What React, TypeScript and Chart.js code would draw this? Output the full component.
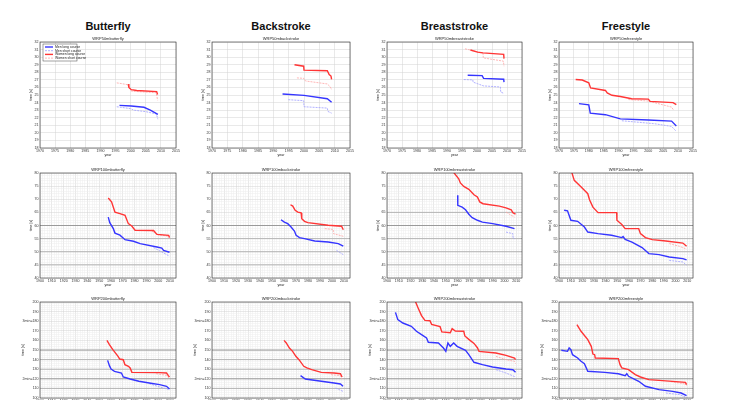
import { useEffect, useRef } from "react";
import { Chart, registerables } from "chart.js";
import type { ChartConfiguration, Plugin } from "chart.js";

Chart.register(...registerables);
Chart.defaults.font.family = "'Liberation Sans', Arial, sans-serif";

type Pts = number[][];

// 50m, [year, time in s]
const fly50ML: Pts = [[1996.3, 23.63], [2000.2, 23.55], [2004.4, 23.38], [2006.5, 23.0], [2009, 22.43]];
const fly50MS: Pts = [[1995.4, 23.45], [2000, 23.2], [2001, 23.0], [2005, 22.8], [2008.5, 22.5], [2009, 21.8]];
const fly50WL: Pts = [[1999.2, 26.45], [1999.4, 26.0], [2000.2, 25.7], [2002, 25.6], [2008.6, 25.45], [2008.9, 25.07]];
const fly50WS: Pts = [[1995.4, 26.6], [1996.3, 26.55], [1999.2, 26.35], [2000.3, 25.5], [2008.5, 25.3], [2008.9, 24.3]];

const back50ML: Pts = [[1993, 25.13], [2000, 24.95], [2007.6, 24.5], [2009, 24.04]];
const back50MS: Pts = [[1994.9, 24.38], [1999.9, 24.25], [2000, 23.45], [2007.6, 23.27], [2007.8, 22.83], [2009, 22.6]];
const back50WL: Pts = [[1996.9, 28.99], [1999.9, 28.8], [2000, 28.28], [2007.6, 28.2], [2008.2, 27.7], [2008.8, 27.5], [2009, 27.06]];
const back50WS: Pts = [[1997.7, 27.26], [1999.9, 27.2], [2000.5, 26.85], [2007.6, 26.46], [2008.6, 26.06], [2009, 25.7]];

const breast50ML: Pts = [[1996.9, 27.6], [2001.7, 27.56], [2002.2, 27.2], [2008.9, 27.08], [2009, 26.7]];
const breast50MS: Pts = [[1995.6, 27.04], [1998.6, 27.0], [1998.7, 26.7], [2002.2, 26.2], [2007.8, 26.06], [2007.9, 25.4], [2009, 25.2]];
const breast50WL: Pts = [[1997.8, 30.94], [2000.2, 30.67], [2002, 30.57], [2008.9, 30.36], [2009, 29.8]];
const breast50WS: Pts = [[1996, 31.1], [1997.8, 30.94], [2002, 30.5], [2002.1, 29.9], [2008.8, 29.47], [2009, 28.8]];

const free50ML: Pts = [[1976.7, 23.86], [1980, 23.7], [1980.5, 22.6], [1985.6, 22.4], [1990.6, 21.85], [2000, 21.7], [2007.8, 21.55], [2009.4, 20.91]];
const free50MS: Pts = [[1991.1, 21.6], [2002.2, 21.2], [2007.8, 20.85], [2009.4, 20.2]];
const free50WL: Pts = [[1975.6, 27.04], [1977.8, 26.98], [1980, 26.6], [1980.6, 25.93], [1985.6, 25.6], [1986.2, 25.27], [1987.8, 24.96], [1990.6, 24.8], [1994.4, 24.5], [2000, 24.45], [2000.6, 24.16], [2008.3, 24.0], [2009.4, 23.73]];
const free50WS: Pts = [[1993.3, 24.4], [2000, 24.2], [2007.8, 23.4], [2008.4, 23.05]];

// 100m
const fly100ML: Pts = [[1957.7, 63.2], [1959, 61.1], [1962, 58.8], [1963.4, 57.1], [1967.6, 56.3], [1971.9, 54.6], [1979, 54], [1984.7, 53.1], [1998.9, 51.8], [2003, 51.4], [2004.5, 50.5], [2009.5, 49.82]];
const fly100MS: Pts = [[1996, 51.6], [2003, 49.9], [2009.5, 48.3]];
const fly100WL: Pts = [[1957.7, 70.5], [1960.5, 69], [1963.4, 65.1], [1967.6, 64.5], [1971.9, 63.9], [1974.7, 60.7], [1977.6, 59.8], [1980.4, 58.2], [1996, 58.1], [1998.9, 56.6], [2008.8, 56.25], [2009.5, 55.4]];
const fly100WS: Pts = [[1994.6, 57.8], [2000, 56.5], [2008.8, 55.9], [2009.5, 55.1]];

const back100ML: Pts = [[1957.5, 62.2], [1960.3, 61.3], [1963.1, 60.7], [1965.9, 59.4], [1968.7, 57.9], [1970.1, 56.3], [1972.9, 55.4], [1977.1, 55], [1985.6, 54.1], [1996.8, 53.7], [2005.2, 53.1], [2009.4, 52.1]];
const back100MS: Pts = [[2003.8, 50.5], [2009.4, 48.9]];
const back100WL: Pts = [[1965.4, 67.9], [1967.3, 67.4], [1969.3, 65.8], [1971.5, 65.1], [1974.3, 64.8], [1974.8, 62.6], [1977.1, 61.6], [1979.9, 61.1], [1996.8, 60.1], [2008, 59.7], [2009.4, 58.4]];
const back100WS: Pts = [[1994, 58.8], [2001, 58.5], [2001.2, 56.9], [2009.4, 55.9]];

const breast100ML: Pts = [[1960.2, 71.5], [1960.3, 67.7], [1964, 67], [1966.9, 66], [1969.7, 64.3], [1972.6, 63], [1977, 62], [1981.3, 61.3], [1990, 60.7], [2001.4, 59.7], [2008.6, 58.8]];
const breast100MS: Pts = [[2001.4, 57.5], [2007.2, 56.9], [2007.4, 55.2], [2008.6, 55]];
const breast100WL: Pts = [[1956.3, 80.5], [1961.1, 77.8], [1962.5, 76.2], [1965.4, 74.9], [1969.7, 73.8], [1974.1, 71.7], [1977, 70.9], [1979, 69], [1981.8, 68.3], [1995.7, 67.4], [2001.4, 66.7], [2005.8, 66], [2007.2, 64.9], [2009.5, 64.3]];
const breast100WS: Pts = [[2001.4, 65.1], [2005.8, 63.9], [2008.6, 63.2]];

const free100ML: Pts = [[1904.4, 65.8], [1907.3, 65.6], [1910.2, 62], [1916, 61.6], [1921.8, 59.4], [1924.7, 57.5], [1933.5, 56.9], [1945.1, 56.3], [1953.9, 55.4], [1955, 55.8], [1956.8, 54.7], [1962.6, 53.7], [1971.3, 51.6], [1977.1, 49.3], [1985.9, 48.9], [1994.6, 48], [2006.3, 47.4], [2009.5, 46.9]];
const free100MS: Pts = [[1994.6, 46.7], [2006.3, 46.1], [2009.5, 44.9]];
const free100WL: Pts = [[1910.8, 80.5], [1913.1, 77.2], [1917.5, 75.3], [1921.8, 73.4], [1924.7, 72.1], [1926.2, 69.8], [1929.1, 67], [1933.5, 64.9], [1949.5, 64.9], [1949.7, 62], [1953.9, 60.4], [1956.8, 58.8], [1968.4, 58.8], [1969.9, 56.9], [1974.2, 55.4], [1980.1, 54.6], [1991.7, 54.1], [2006.3, 53.3], [2009.5, 52.1]];
const free100WS: Pts = [[1994.6, 53.1], [2003.3, 52.1], [2009.5, 51]];

// 200m
const fly200ML: Pts = [[1957.2, 139.2], [1958.7, 133.7], [1960.1, 130.2], [1963, 127.8], [1968.9, 126], [1970.4, 121.9], [1976.2, 119.8], [1983.6, 117.4], [1992.4, 115.6], [2001.2, 113.9], [2007, 112.2], [2009.5, 109.4]];
const fly200MS: Pts = [[1992.4, 114.9], [2001.2, 111.5], [2009.5, 108.7]];
const fly200WL: Pts = [[1956.6, 160], [1958.7, 155.6], [1961.6, 150.3], [1966, 143.4], [1967.4, 140.6], [1970.4, 139.9], [1971.8, 134.7], [1974.8, 133], [1976.2, 131.3], [1977.7, 126.7], [2001.2, 126.4], [2007, 126], [2008.5, 123.3], [2009.5, 121.9]];
const fly200WS: Pts = [[1998.2, 125.3], [2007, 123.6], [2009.4, 120.8]];

const back200ML: Pts = [[1973.8, 123.3], [1977.8, 119.8], [1991.1, 117.4], [2001.7, 115.6], [2007, 114.6], [2009.2, 112.2]];
const back200MS: Pts = [[2003, 110.4], [2009.2, 106.9]];
const back200WL: Pts = [[1960, 160], [1961.9, 157.3], [1964.5, 152], [1967.2, 148.6], [1969.9, 143.4], [1972.5, 139.9], [1976.5, 133], [1979.1, 131.3], [1983.1, 129.5], [1991.1, 126.7], [2001.7, 126], [2007, 125.3], [2008.4, 121.9]];
const back200WS: Pts = [[1999.1, 124.3], [2007, 123.3], [2008.4, 119.8]];

const breast200ML: Pts = [[1907.2, 189.2], [1909.2, 181.6], [1913.5, 178.1], [1920.7, 174.7], [1925.1, 169.5], [1929.4, 166], [1933.7, 162.5], [1935.2, 158.1], [1943.8, 157.3], [1948.1, 152.1], [1950.1, 148.6], [1951.9, 157.3], [1953.9, 153.8], [1956.8, 157.3], [1959.7, 153.8], [1966.9, 149.7], [1969.7, 145.1], [1974.1, 137.2], [1981.3, 134.7], [1989.9, 132.3], [2001.4, 130.2], [2007.2, 129.5], [2009.5, 126.7]];
const breast200MS: Pts = [[1992.8, 129.5], [2001.4, 126], [2009.5, 121.9]];
const breast200WL: Pts = [[1924.2, 200.5], [1926.5, 193.8], [1929.4, 185.8], [1932.3, 180.9], [1936.6, 180.5], [1938, 176.7], [1945.2, 174.3], [1946.7, 168.8], [1953.9, 168], [1955.5, 172.2], [1958.2, 169.8], [1965.4, 169.5], [1966.3, 164.6], [1969.7, 161.1], [1974.1, 156.9], [1977, 152.4], [1978.4, 148.6], [1992.8, 146.9], [2001.4, 144.4], [2008.6, 141.7], [2009.5, 139.9]];
const breast200WS: Pts = [[1992.8, 143.4], [2001.4, 139.9], [2008.6, 138.2], [2009.5, 135.8]];

const free200ML: Pts = [[1902, 149.7], [1907.3, 148.6], [1908.7, 152.1], [1910.2, 150.3], [1911.6, 145.1], [1916, 141.7], [1918.9, 138.2], [1921.8, 135.8], [1924.7, 127.8], [1939.3, 126.7], [1950.9, 125.3], [1956.8, 123.3], [1958.2, 125.3], [1959.7, 122.6], [1968.4, 117.4], [1974.2, 112.2], [1985.9, 108.7], [1997.5, 106.9], [2004.8, 105.2], [2009.5, 102.5]];
const free200MS: Pts = [[1991.7, 105.2], [2003.3, 103.5], [2009.5, 100.5]];
const free200WL: Pts = [[1915.4, 176.4], [1918.9, 169.5], [1924.7, 160.8], [1927.7, 153.8], [1929.1, 145.8], [1930.6, 145.1], [1931.1, 141.7], [1950.9, 141], [1952.4, 134.7], [1953.9, 131.3], [1959.7, 129.5], [1965.5, 124.3], [1969.9, 121.9], [1977.1, 119.1], [1985.9, 118.4], [2008.5, 116.3], [2009.5, 114]];
const free200WS: Pts = [[1996, 117], [2008.5, 114.6], [2009.5, 113]];

// grey reference lines
const refs100 = [60, 55, 50, 45];
const refs100Breast = [65, 60, 55, 50, 45];
const refs200 = [150, 140, 130, 120, 110];

const strokeNames = ["butterfly", "backstroke", "breaststroke", "freestyle"];
const strokeTitles = ["Butterfly", "Backstroke", "Breaststroke", "Freestyle"];
const distances = ["50m", "100m", "200m"];
const seriesLabels = ["Men long course", "Men short course", "Women long course", "Women short course"];

const panelSeries: Pts[][][] = [
  [[fly50ML, fly50MS, fly50WL, fly50WS], [back50ML, back50MS, back50WL, back50WS], [breast50ML, breast50MS, breast50WL, breast50WS], [free50ML, free50MS, free50WL, free50WS]],
  [[fly100ML, fly100MS, fly100WL, fly100WS], [back100ML, back100MS, back100WL, back100WS], [breast100ML, breast100MS, breast100WL, breast100WS], [free100ML, free100MS, free100WL, free100WS]],
  [[fly200ML, fly200MS, fly200WL, fly200WS], [back200ML, back200MS, back200WL, back200WS], [breast200ML, breast200MS, breast200WL, breast200WS], [free200ML, free200MS, free200WL, free200WS]],
];
const panelRefs: number[][][] = [
  [[], [], [], []],
  [refs100, refs100, refs100Breast, refs100],
  [refs200, refs200, refs200, refs200],
];

const rowAxes = [
  { xMin: 1970, xMax: 2015, xStep: 5, xEvery: 5, yMin: 18, yMax: 32, yStep: 1, yEvery: 1 },
  { xMin: 1900, xMax: 2015, xStep: 2, xEvery: 10, yMin: 40, yMax: 80, yStep: 1, yEvery: 5 },
  { xMin: 1900, xMax: 2015, xStep: 2, xEvery: 10, yMin: 100, yMax: 200, yStep: 2, yEvery: 10 },
];
const minuteLabels: Record<number, string> = { 180: "3min=180", 120: "2min=120" };

// layout (page pixels)
const colLeft = [40, 212, 387, 559];
const colRight = [176, 350, 522, 693];
const rowTop = [42, 173, 302];
const rowBottom = [148, 278, 398];
const rowAxisW = [11, 11, 19];
const PAD_TOP = 8;
const PAD_RIGHT = 7;
const X_AXIS_H = 9;

const seriesColors = ["#3535ff", "#9d9dff", "#ff3535", "#ffa3a3"];
const seriesWidths = [1.4, 0.8, 1.4, 0.8];
const seriesDashes = [[], [2, 1], [], [2, 1]];
const FONT = "'Liberation Sans', Arial, sans-serif";
const TICK_SIZE = 3.6;

const isMult = (v: number, m: number) => Math.abs(v / m - Math.round(v / m)) < 1e-6;

function Panel({ row, col }: { row: number; col: number }) {
  const chartRef = useRef<HTMLCanvasElement>(null);
  const ax = rowAxes[row];
  const yW = rowAxisW[row];
  const left = colLeft[col] - yW;
  const top = rowTop[row] - PAD_TOP;
  const width = colRight[col] - colLeft[col] + yW + PAD_RIGHT;
  const height = rowBottom[row] - rowTop[row] + PAD_TOP + X_AXIS_H;

  useEffect(() => {
    if (!chartRef.current) return;
    const title = `WRP${distances[row]}${strokeNames[col]}`;

    const framePlugin: Plugin<"line"> = {
      id: "frame",
      afterDraw(chart) {
        const { ctx, chartArea: a } = chart;
        ctx.save();
        ctx.strokeStyle = "#2a2a2a";
        ctx.lineWidth = 0.6;
        ctx.strokeRect(a.left, a.top, a.right - a.left, a.bottom - a.top);
        ctx.fillStyle = "#222";
        ctx.font = `4px ${FONT}`;
        ctx.textAlign = "center";
        ctx.textBaseline = "bottom";
        ctx.fillText(title, (a.left + a.right) / 2, a.top - 1.5);
        ctx.restore();
      },
    };

    const legendPlugin: Plugin<"line"> = {
      id: "insetLegend",
      afterDatasetsDraw(chart) {
        if (row !== 0 || col !== 0) return;
        const { ctx, chartArea: a } = chart;
        const x = a.left + 3;
        const y = a.top + 2;
        ctx.save();
        ctx.fillStyle = "#fff";
        ctx.fillRect(x, y, 34, 17);
        ctx.strokeStyle = "#444";
        ctx.lineWidth = 0.5;
        ctx.strokeRect(x, y, 34, 17);
        seriesLabels.forEach((label, i) => {
          const ly = y + 3 + i * 3.7;
          ctx.strokeStyle = seriesColors[i];
          ctx.lineWidth = seriesWidths[i];
          ctx.setLineDash(seriesDashes[i]);
          ctx.beginPath();
          ctx.moveTo(x + 2, ly);
          ctx.lineTo(x + 10, ly);
          ctx.stroke();
          ctx.setLineDash([]);
          ctx.fillStyle = "#222";
          ctx.font = `3.4px ${FONT}`;
          ctx.textBaseline = "middle";
          ctx.fillText(label, x + 12, ly);
        });
        ctx.restore();
      },
    };

    const datasets: any[] = panelSeries[row][col].map((pts, i) => ({
      label: seriesLabels[i],
      data: pts.map(([x, y]) => ({ x, y })),
      borderColor: seriesColors[i],
      borderWidth: seriesWidths[i],
      borderDash: seriesDashes[i],
      pointRadius: 0,
      fill: false,
      tension: 0,
    }));
    panelRefs[row][col].forEach((v) => {
      datasets.push({
        label: `ref ${v}`,
        data: [{ x: ax.xMin, y: v }, { x: ax.xMax, y: v }],
        borderColor: isMult(v, 30) ? "#9a9a9a" : "#b5b5b5",
        borderWidth: 1,
        pointRadius: 0,
        fill: false,
      });
    });

    const gridColor = (every: number) => (ctx: any) =>
      ctx.tick && isMult(ctx.tick.value, every) ? "#d2d2d2" : "#ececec";

    const config: ChartConfiguration<"line"> = {
      type: "line",
      data: { datasets },
      options: {
        responsive: true,
        maintainAspectRatio: false,
        animation: false,
        events: [],
        layout: { padding: { top: PAD_TOP, right: PAD_RIGHT, left: 0, bottom: 0 } },
        plugins: { legend: { display: false }, tooltip: { enabled: false } },
        scales: {
          x: {
            type: "linear",
            min: ax.xMin,
            max: ax.xMax,
            afterFit: (scale) => {
              scale.height = X_AXIS_H;
            },
            ticks: {
              stepSize: ax.xStep,
              autoSkip: false,
              maxRotation: 0,
              minRotation: 0,
              padding: 1,
              color: "#333",
              font: { size: TICK_SIZE },
              callback: (v) => {
                const n = Number(v);
                return isMult(n, ax.xEvery) && n <= 2010 + (row === 0 ? 5 : 0) ? String(n) : "";
              },
            },
            grid: { color: gridColor(ax.xEvery), lineWidth: 0.5, drawTicks: false },
            border: { display: false },
            title: { display: true, text: "year", color: "#222", font: { size: TICK_SIZE }, padding: 0 },
          },
          y: {
            type: "linear",
            min: ax.yMin,
            max: ax.yMax,
            afterFit: (scale) => {
              scale.width = yW;
            },
            ticks: {
              stepSize: ax.yStep,
              autoSkip: false,
              padding: 1.5,
              color: "#333",
              font: { size: TICK_SIZE },
              callback: (v) => {
                const n = Number(v);
                if (!isMult(n, ax.yEvery)) return "";
                return minuteLabels[n] && row === 2 ? minuteLabels[n] : String(n);
              },
            },
            grid: { color: gridColor(ax.yEvery), lineWidth: 0.5, drawTicks: false },
            border: { display: false },
            title: { display: true, text: "time [s]", color: "#222", font: { size: TICK_SIZE }, padding: 0 },
          },
        },
      },
      plugins: [framePlugin, legendPlugin],
    };

    const chart = new Chart(chartRef.current, config);
    return () => chart.destroy();
  }, [row, col]);

  return (
    <div style={{ position: "absolute", left, top, width, height }}>
      <canvas ref={chartRef} />
    </div>
  );
}

export default function App() {
  return (
    <div
      style={{
        position: "absolute",
        left: 0,
        top: 0,
        width: 735,
        height: 400,
        overflow: "hidden",
        background: "#fff",
      }}
    >
      {strokeTitles.map((t, c) => (
        <div
          key={t}
          style={{
            position: "absolute",
            left: colLeft[c],
            width: colRight[c] - colLeft[c],
            top: 19,
            height: 14,
            lineHeight: "14px",
            textAlign: "center",
            fontFamily: FONT,
            fontWeight: "bold",
            fontSize: 11,
            color: "#111",
          }}
        >
          {t}
        </div>
      ))}
      {[0, 1, 2].map((r) =>
        [0, 1, 2, 3].map((c) => <Panel key={`${r}-${c}`} row={r} col={c} />)
      )}
    </div>
  );
}
